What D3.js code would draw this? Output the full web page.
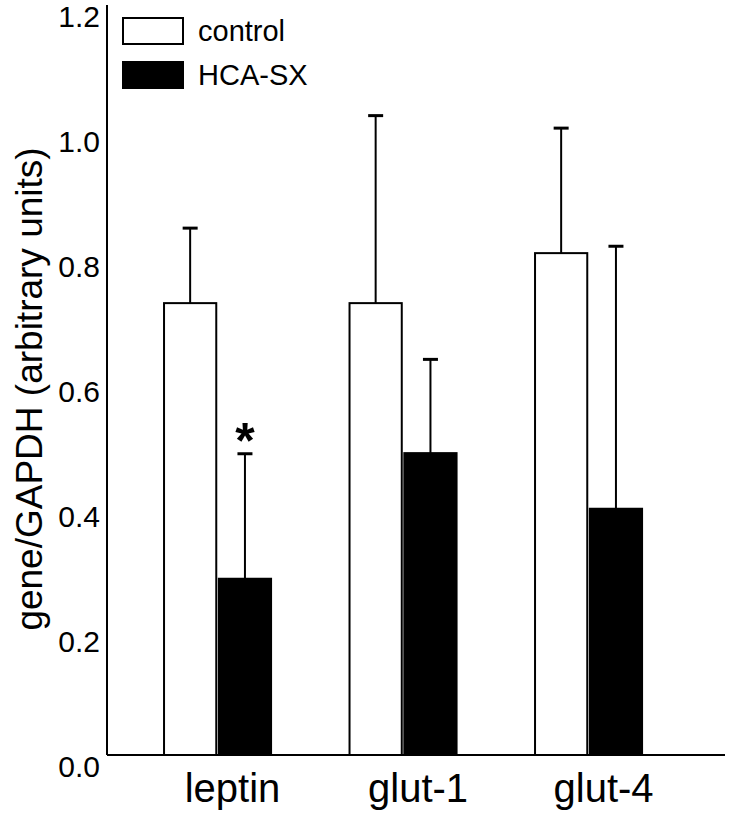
<!DOCTYPE html>
<html>
<head>
<meta charset="utf-8">
<script src="https://cdn.jsdelivr.net/npm/d3@7"></script>
<style>
  html, body { margin: 0; padding: 0; background: #fff; }
  svg text { font-family: "Liberation Sans", Arial, sans-serif; fill: #000; }
</style>
</head>
<body>
<svg id="chart" width="750" height="815"></svg>
<script>
const categories = ["leptin", "glut-1", "glut-4"];
const seriesNames = ["control", "HCA-SX"];
const controlValues = [0.723, 0.723, 0.803];
const controlErrors = [0.12, 0.30, 0.20];
const hcaValues = [0.282, 0.483, 0.394];
const hcaErrors = [0.20, 0.15, 0.42];
const significant = [true, false, false];
const yTicks = [0.0, 0.2, 0.4, 0.6, 0.8, 1.0, 1.2];
const yLabel = "gene/GAPDH (arbitrary units)";

const svg = d3.select("#chart");

const y = d3.scaleLinear().domain([0, 1.2]).range([755, 5]);
const x0 = d3.scaleBand().domain(categories)
  .range([124.8, 681.3]).paddingInner(0.423).paddingOuter(0.2115).align(0.5);
const x1 = d3.scaleBand().domain(seriesNames)
  .range([0, x0.bandwidth()]).paddingInner(0.047);

const data = categories.map((c, i) => ({
  cat: c,
  bars: [
    { s: "control", v: controlValues[i], e: controlErrors[i] },
    { s: "HCA-SX", v: hcaValues[i], e: hcaErrors[i] }
  ],
  sig: significant[i]
}));

const color = { "control": "#fff", "HCA-SX": "#000" };

// Axes
const xAxisLeft = 107, xAxisRight = 725;
svg.append("line")
  .attr("x1", xAxisLeft).attr("x2", xAxisLeft)
  .attr("y1", y(1.2)).attr("y2", y(0))
  .attr("stroke", "#000").attr("stroke-width", 2);
svg.append("line")
  .attr("x1", xAxisLeft).attr("x2", xAxisRight)
  .attr("y1", y(0)).attr("y2", y(0))
  .attr("stroke", "#000").attr("stroke-width", 2);

const yAxis = d3.axisLeft(y).tickValues(yTicks).tickFormat(d3.format(".1f")).tickSize(0).tickPadding(7);
const yg = svg.append("g").attr("transform", `translate(${xAxisLeft},12)`).call(yAxis);
yg.select(".domain").remove();
yg.selectAll("text").attr("font-size", 30).attr("font-family", "Liberation Sans, Arial, sans-serif").attr("fill", "#000");

const xAxis = d3.axisBottom(x0).tickSize(0).tickPadding(19);
const xg = svg.append("g").attr("transform", `translate(15,${y(0)})`).call(xAxis);
xg.select(".domain").remove();
xg.selectAll("text").attr("font-size", 40).attr("font-family", "Liberation Sans, Arial, sans-serif").attr("fill", "#000");

// Y label
svg.append("text")
  .attr("transform", `translate(42,389) rotate(-90)`)
  .attr("text-anchor", "middle")
  .attr("font-size", 37)
  .text(yLabel);

// Bars
const groups = svg.selectAll("g.grp").data(data).enter().append("g")
  .attr("class", "grp")
  .attr("transform", d => `translate(${x0(d.cat)},0)`);

groups.each(function(d) {
  const g = d3.select(this);
  d.bars.forEach(b => {
    const bx = x1(b.s), bw = x1.bandwidth();
    const cx = bx + bw / 2;
    g.append("line")
      .attr("x1", cx).attr("x2", cx)
      .attr("y1", y(b.v)).attr("y2", y(b.v + b.e))
      .attr("stroke", "#000").attr("stroke-width", 2);
    g.append("line")
      .attr("x1", cx - 7.5).attr("x2", cx + 7.5)
      .attr("y1", y(b.v + b.e)).attr("y2", y(b.v + b.e))
      .attr("stroke", "#000").attr("stroke-width", 3);
    g.append("rect")
      .attr("x", bx).attr("width", bw)
      .attr("y", y(b.v)).attr("height", y(0) - y(b.v))
      .attr("fill", color[b.s]).attr("stroke", "#000").attr("stroke-width", 2);
  });
  if (d.sig) {
    const b = d.bars[1];
    g.append("text")
      .attr("x", x1(b.s) + x1.bandwidth() / 2)
      .attr("y", y(b.v + b.e) + 4)
      .attr("text-anchor", "middle")
      .attr("font-size", 50)
      .attr("font-weight", "bold")
      .text("*");
  }
});

// Legend
const legend = svg.append("g").attr("transform", "translate(123,18)");
seriesNames.forEach((s, i) => {
  const ly = i * 44;
  legend.append("rect")
    .attr("x", 0).attr("y", ly).attr("width", 60).attr("height", 26)
    .attr("fill", color[s]).attr("stroke", "#000").attr("stroke-width", 2);
  legend.append("text")
    .attr("x", 75).attr("y", ly + 13)
    .attr("dy", "0.35em")
    .attr("font-size", 29)
    .text(s);
});
</script>
</body>
</html>
